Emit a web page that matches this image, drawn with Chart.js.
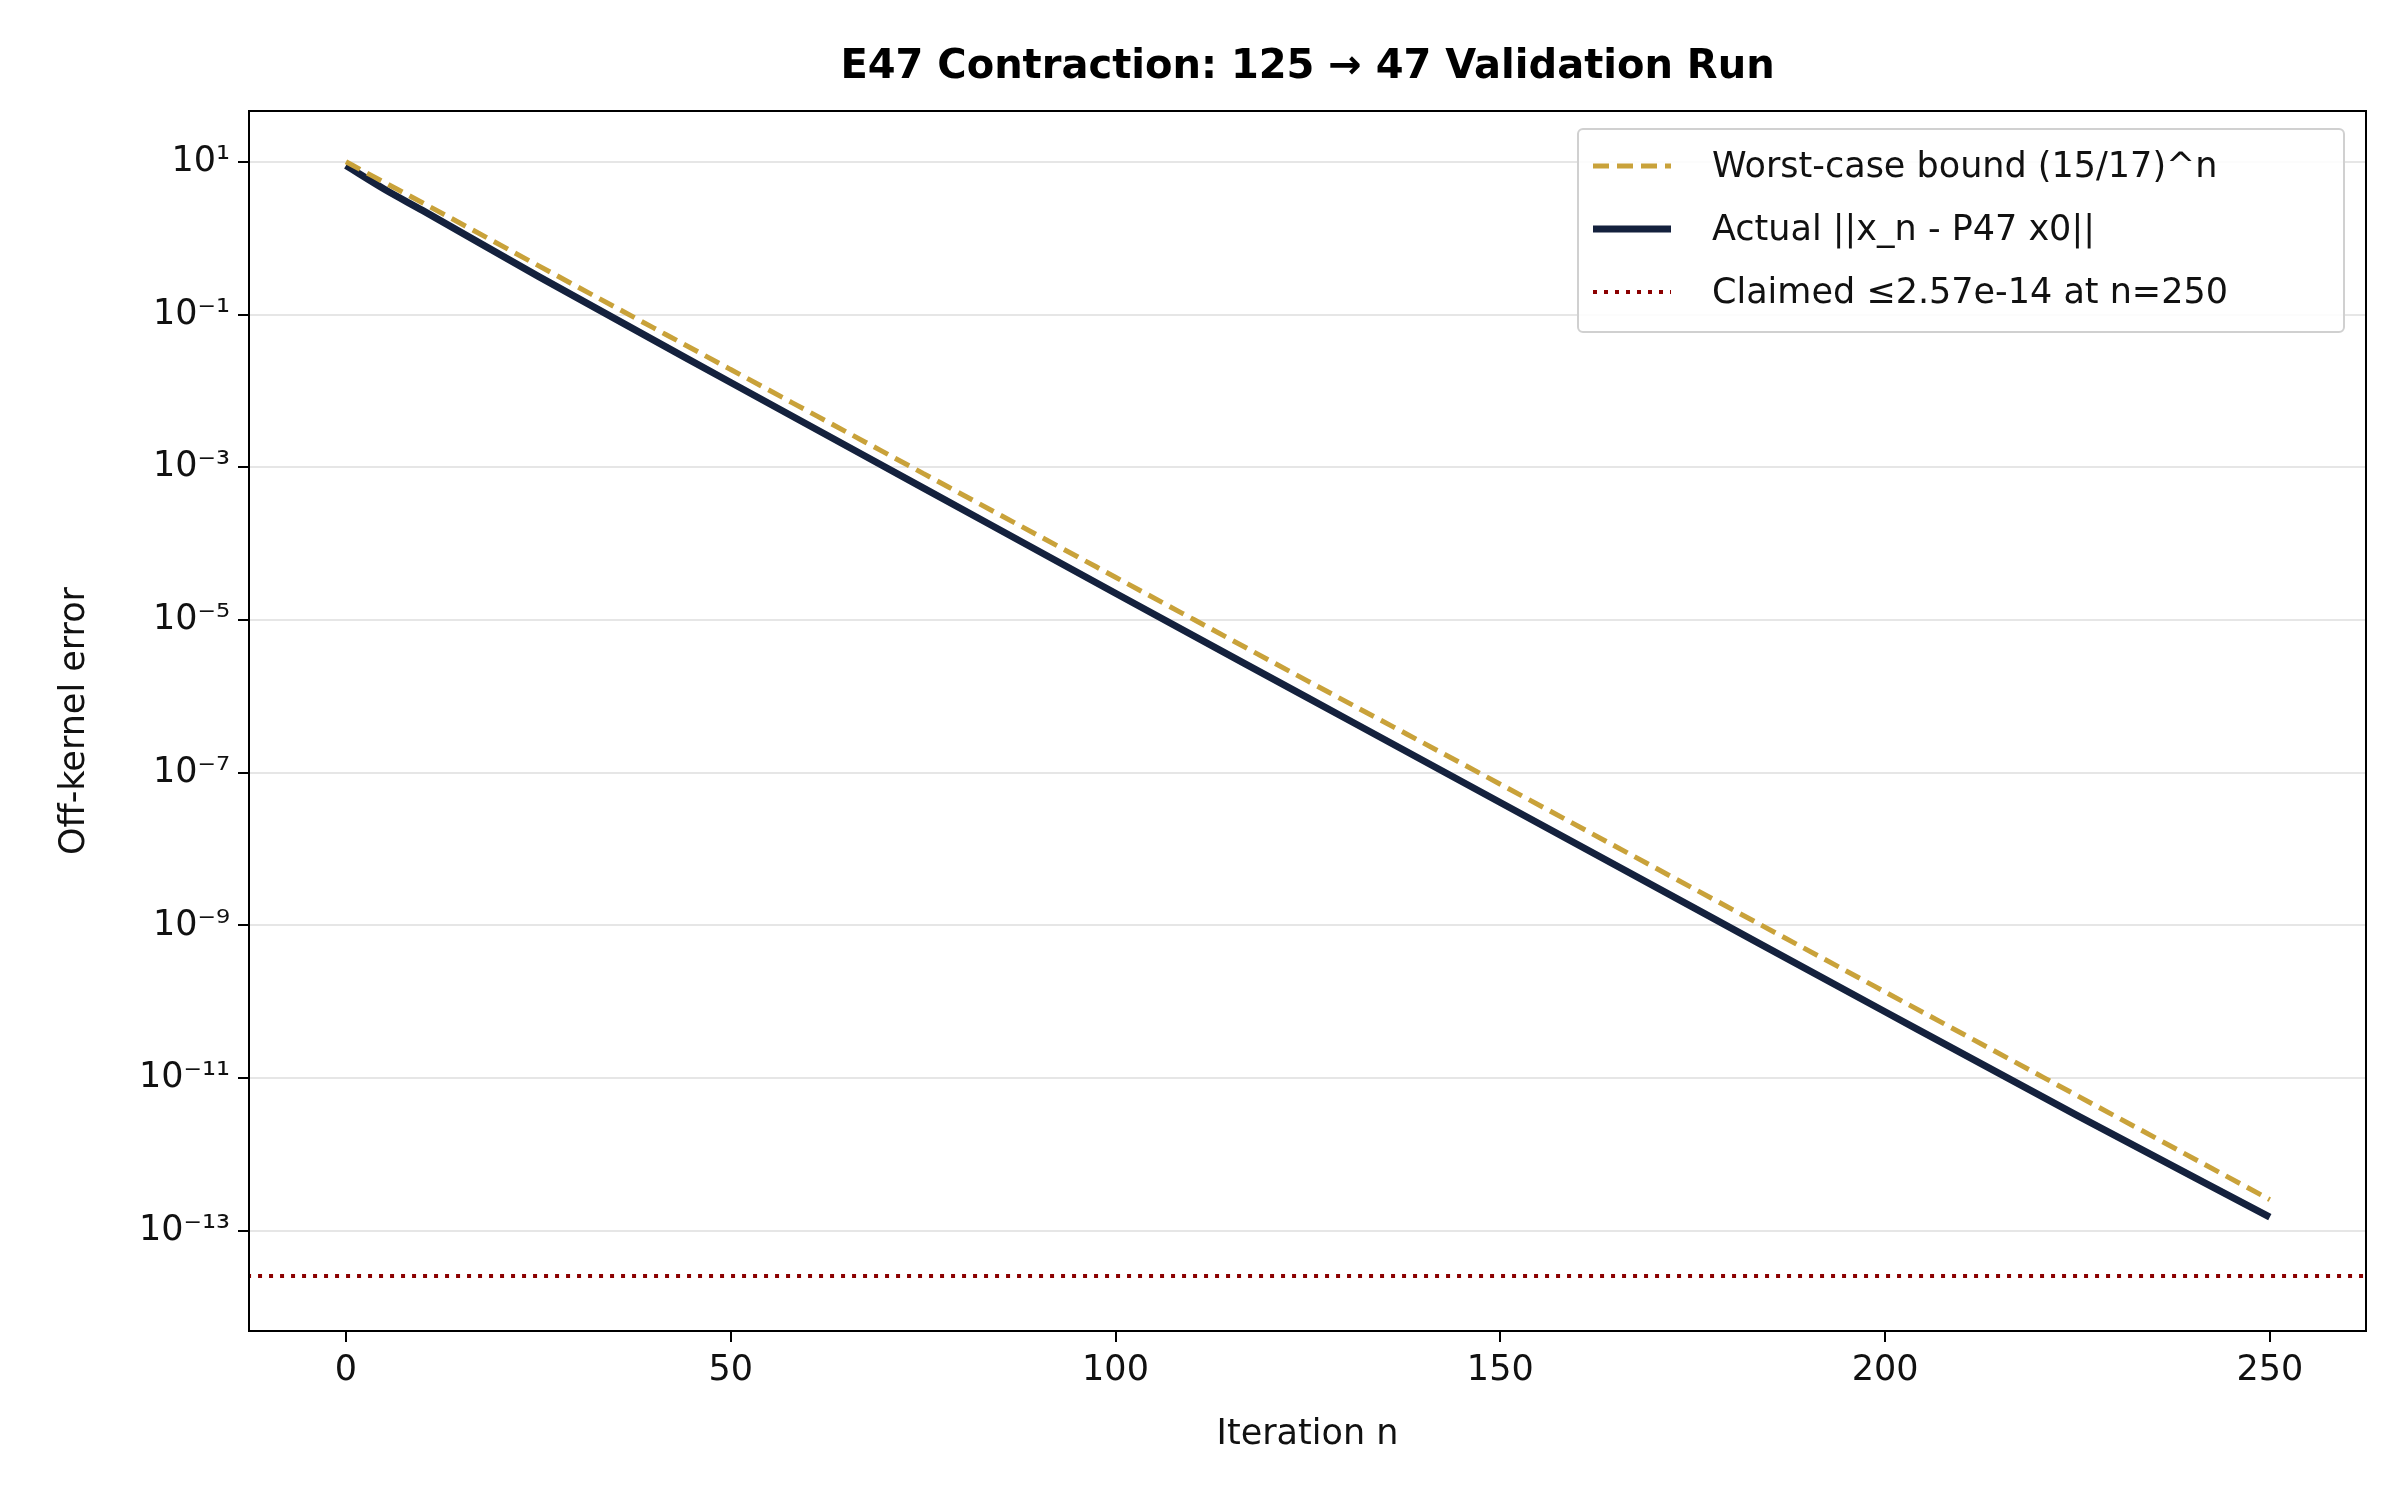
<!DOCTYPE html>
<html>
<head>
<meta charset="utf-8">
<script src="https://cdn.jsdelivr.net/npm/chart.js@4/dist/chart.umd.min.js"></script>
<style>
  html, body { margin: 0; padding: 0; background: #fff; }
  #wrap { width: 2400px; height: 1500px; }
</style>
</head>
<body>
<div id="wrap"><canvas id="chart" width="2400" height="1500"></canvas></div>
<script>
// values (iteration n, log10 of error)
const iterations = [0, 5, 10, 25, 50, 75, 100, 125, 150, 175, 200, 225, 250];
const boundExp = [1.0, 0.73, 0.46, -0.36, -1.72, -3.08, -4.44, -5.80, -7.15, -8.51, -9.87, -11.23, -12.59];
const actualExp = [0.95, 0.64, 0.36, -0.50, -1.89, -3.27, -4.65, -6.02, -7.39, -8.76, -10.13, -11.49, -12.82];
const claimedValue = 2.57e-14;
const yTickExps = [1, -1, -3, -5, -7, -9, -11, -13];
const xTicks = [0, 50, 100, 150, 200, 250];
const titleText = "E47 Contraction: 125 \u2192 47 Validation Run";

const legendItems = [
  { label: "Worst-case bound (15/17)^n", color: "#c9a23a", width: 5, dash: [16, 8] },
  { label: "Actual ||x_n - P47 x0||", color: "#14213d", width: 7, dash: [] },
  { label: "Claimed \u22642.57e-14 at n=250", color: "#8b0000", width: 4, dash: [4, 7] },
];

const sup = { "-": "\u207B", "0": "\u2070", "1": "\u00B9", "2": "\u00B2", "3": "\u00B3", "4": "\u2074",
  "5": "\u2075", "6": "\u2076", "7": "\u2077", "8": "\u2078", "9": "\u2079" };
const toSup = (n) => String(n).split("").map((c) => sup[c]).join("");

const FONT = "'DejaVu Sans', sans-serif";

// Frame, title centred on plot, legend inside the plot area
const framePlugin = {
  id: "frame",
  afterDraw(chart) {
    const { ctx, chartArea: a } = chart;
    ctx.save();
    ctx.strokeStyle = "#000";
    ctx.lineWidth = 2;
    ctx.strokeRect(a.left, a.top, a.right - a.left, a.bottom - a.top);

    ctx.fillStyle = "#000";
    ctx.font = "bold 40px " + FONT;
    ctx.textAlign = "center";
    ctx.textBaseline = "middle";
    ctx.fillText(titleText, (a.left + a.right) / 2, 68);
    ctx.textAlign = "left";

    const boxW = 766, boxH = 203;
    const bx = a.right - 22 - boxW, by = a.top + 18;
    ctx.fillStyle = "rgba(255,255,255,0.85)";
    ctx.strokeStyle = "#d0d0d0";
    ctx.lineWidth = 2;
    ctx.beginPath();
    ctx.roundRect(bx, by, boxW, boxH, 5);
    ctx.fill();
    ctx.stroke();
    ctx.font = "35px " + FONT;
    legendItems.forEach((it, i) => {
      const y = by + 37 + i * 63;
      ctx.strokeStyle = it.color;
      ctx.lineWidth = it.width;
      ctx.setLineDash(it.dash);
      ctx.beginPath();
      ctx.moveTo(bx + 15, y);
      ctx.lineTo(bx + 93, y);
      ctx.stroke();
      ctx.setLineDash([]);
      ctx.fillStyle = "#111";
      ctx.fillText(it.label, bx + 134, y + 2);
    });
    ctx.restore();
  }
};

new Chart(document.getElementById("chart"), {
  type: "line",
  data: {
    datasets: [
      {
        label: legendItems[0].label,
        data: iterations.map((n, i) => ({ x: n, y: Math.pow(10, boundExp[i]) })),
        borderColor: legendItems[0].color,
        borderWidth: 5,
        borderDash: [16, 8],
        pointRadius: 0,
        cubicInterpolationMode: "monotone",
      },
      {
        label: legendItems[1].label,
        data: iterations.map((n, i) => ({ x: n, y: Math.pow(10, actualExp[i]) })),
        borderColor: legendItems[1].color,
        borderWidth: 7,
        pointRadius: 0,
        cubicInterpolationMode: "monotone",
      },
      {
        label: legendItems[2].label,
        data: [{ x: -20, y: claimedValue }, { x: 270, y: claimedValue }],
        borderColor: legendItems[2].color,
        borderWidth: 4,
        borderDash: [4, 7],
        pointRadius: 0,
      },
    ],
  },
  options: {
    responsive: false,
    animation: false,
    devicePixelRatio: 1,
    layout: { padding: { left: 50, right: 34, top: 0, bottom: 40 } },
    plugins: {
      legend: { display: false },
      tooltip: { enabled: false },
      title: {
        display: true,
        text: titleText,
        color: "rgba(0,0,0,0)",
        font: { family: FONT, size: 40, weight: "bold" },
        padding: { top: 40, bottom: 23 },
      },
    },
    scales: {
      x: {
        type: "linear",
        min: -12.6,
        max: 262.5,
        afterBuildTicks: (s) => { s.ticks = xTicks.map((v) => ({ value: v })); },
        afterFit: (s) => { s.height = 129; },
        grid: { drawOnChartArea: false, drawTicks: true, tickLength: 11, color: "#000", lineWidth: 2 },
        border: { display: false },
        ticks: { color: "#111", font: { family: FONT, size: 35 }, padding: 8, maxRotation: 0 },
        title: { display: true, text: "Iteration n", color: "#111", font: { family: FONT, size: 35 }, padding: { top: 4 } },
      },
      y: {
        type: "logarithmic",
        min: Math.pow(10, -14.31),
        max: Math.pow(10, 1.665),
        afterBuildTicks: (s) => { s.ticks = yTickExps.map((e) => ({ value: Math.pow(10, e) })); },
        afterFit: (s) => { s.width = 199; },
        grid: { color: "#e6e6e6", lineWidth: 2, tickColor: "#000", tickLength: 11 },
        border: { display: false },
        ticks: {
          color: "#111",
          font: { family: FONT, size: 35 },
          padding: 8,
          callback: (v) => "10" + toSup(Math.round(Math.log10(v))),
        },
        title: { display: true, text: "Off-kernel error", color: "#111", font: { family: FONT, size: 35 }, padding: { bottom: 4 } },
      },
    },
  },
  plugins: [framePlugin],
});
</script>
</body>
</html>
